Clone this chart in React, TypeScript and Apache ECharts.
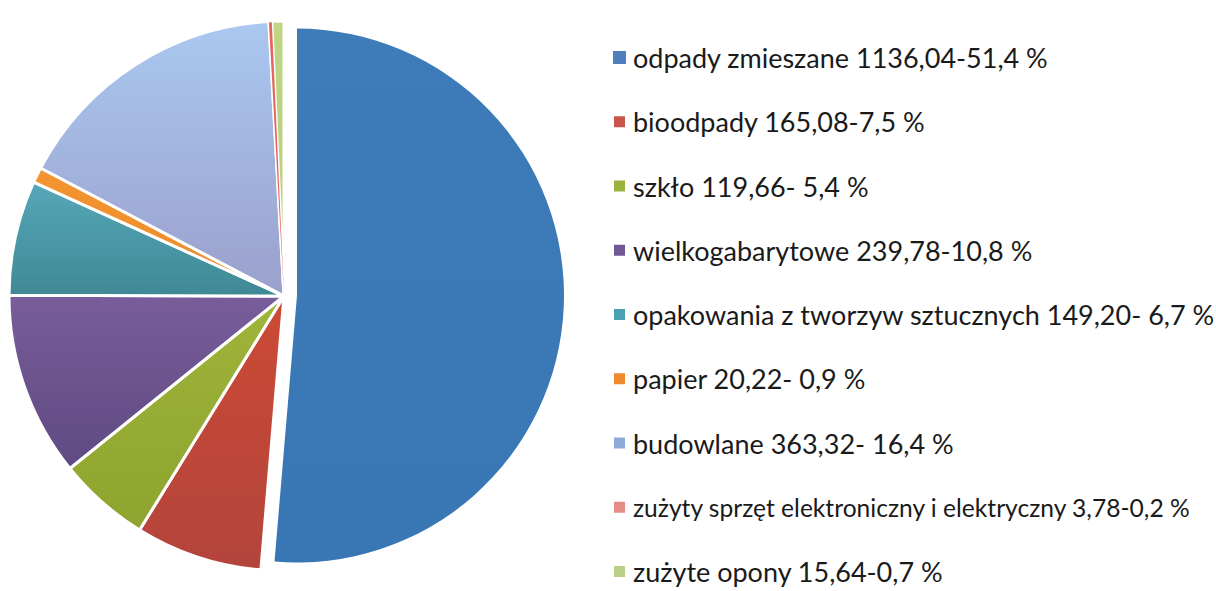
import React, { useEffect, useRef } from "react";
import * as echarts from "echarts";

const names = [
  "odpady zmieszane",
  "bioodpady",
  "szkło",
  "wielkogabarytowe",
  "opakowania z tworzyw sztucznych",
  "papier",
  "budowlane",
  "zużyty sprzęt elektroniczny i elektryczny",
  "zużyte opony",
];
const values = [1136.04, 165.08, 119.66, 239.78, 149.2, 20.22, 363.32, 3.78, 15.64];
const valueLabels = [
  "1136,04-51,4 %",
  "165,08-7,5 %",
  "119,66- 5,4 %",
  "239,78-10,8 %",
  "149,20- 6,7 %",
  "20,22- 0,9 %",
  "363,32- 16,4 %",
  "3,78-0,2 %",
  "15,64-0,7 %",
];
const topColors = ["#3d7bb9", "#cc4a35", "#a0b43a", "#785d9a", "#55a7b8", "#f39532", "#aac8f0", "#e9857e", "#c0d685"];
const bottomColors = ["#3877b4", "#b3443c", "#8ea42e", "#5f4a83", "#3f8995", "#ec8a28", "#9aa0cc", "#e07a74", "#b4cc78"];
const markerColors = ["#4f80bd", "#c9544b", "#9ab33c", "#6f5893", "#4aa0b1", "#ef8a2f", "#8fa9d9", "#e48c86", "#b9ce86"];

function grad(i: number) {
  return {
    type: "linear",
    x: 0,
    y: 0,
    x2: 0,
    y2: 1,
    colorStops: [
      { offset: 0, color: topColors[i] },
      { offset: 1, color: bottomColors[i] },
    ],
  };
}

const hidden = { color: "rgba(0,0,0,0)", borderWidth: 0 };

export default function App() {
  const ref = useRef<HTMLDivElement>(null);
  useEffect(() => {
    document.body.style.margin = "0";
    const chart = echarts.init(ref.current!, undefined, { renderer: "svg" });
    const dataMain = names.map((n, i) => ({
      name: n,
      value: values[i],
      selected: i === 0,
      itemStyle: i === 0 ? { color: grad(i), borderWidth: 0 } : hidden,
    }));
    const dataRest = names.map((n, i) => ({
      name: n,
      value: values[i],
      itemStyle: i === 0 ? hidden : { color: grad(i), borderColor: "#ffffff", borderWidth: 3 },
    }));
    // thin slice drawn on top so it stays visible between the white gaps
    const dataThin = names.map((n, i) => ({
      name: n,
      value: values[i],
      itemStyle: i === 7 ? { color: "#e3675f", borderWidth: 0 } : hidden,
    }));
    const base = {
      type: "pie",
      startAngle: 90,
      clockwise: true,
      silent: true,
      label: { show: false },
      labelLine: { show: false },
      emphasis: { disabled: true },
    };
    chart.setOption({
      animation: false,
      backgroundColor: "#ffffff",
      legend: {
        orient: "vertical",
        left: 612,
        top: 44,
        height: 560,
        padding: 0,
        itemWidth: 13,
        itemHeight: 13,
        itemGap: 37.25,
        icon: "rect",
        selectedMode: false,
        data: names.map((n, i) => ({
          name: n,
          itemStyle: { color: markerColors[i] },
          textStyle: i === 7 ? { fontSize: 24.6 } : {},
        })),
        formatter: (name: string) => name + " " + valueLabels[names.indexOf(name)],
        textStyle: {
          fontFamily: "Lato",
          fontSize: 27,
          lineHeight: 27,
          color: "#1a1a1a",
          padding: [0, 0, 0, 2],
        },
      },
      series: [
        { ...base, center: [284, 296], radius: 275, data: dataRest },
        { ...base, center: [284, 296], radius: 274, data: dataThin },
        {
          ...base,
          center: [284, 295],
          radius: 267,
          selectedMode: "single",
          selectedOffset: 13,
          data: dataMain,
        },
      ],
    });
    return () => chart.dispose();
  }, []);
  return <div ref={ref} style={{ width: 1216, height: 591 }} />;
}
